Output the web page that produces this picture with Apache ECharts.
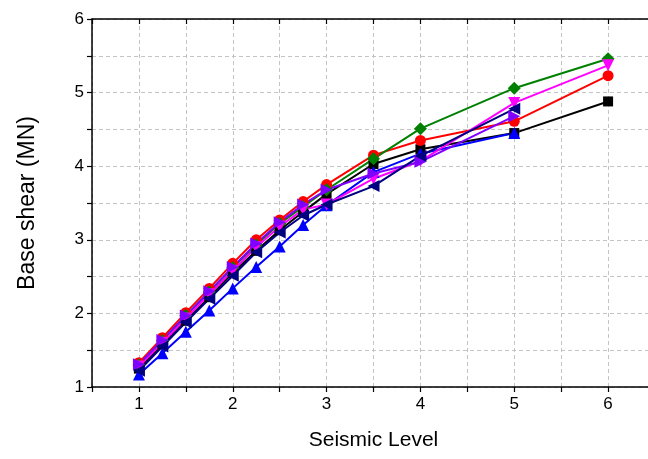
<!DOCTYPE html>
<html>
<head>
<meta charset="utf-8">
<script src="https://cdn.jsdelivr.net/npm/echarts@6/dist/echarts.min.js"></script>
<style>html,body{margin:0;padding:0;background:#fff;overflow:hidden;}#c{width:658px;height:459px;}</style>
</head>
<body>
<div id="c"></div>
<script>
const xLevels = [1, 1.25, 1.5, 1.75, 2, 2.25, 2.5, 2.75, 3, 3.5, 4, 5, 6];
const blackSq   = [1.25, 1.58, 1.90, 2.22, 2.55, 2.85, 3.13, 3.38, 3.62, 4.03, 4.23, 4.45, 4.88];
const redCirc   = [1.33, 1.67, 2.01, 2.34, 2.68, 3.00, 3.27, 3.52, 3.75, 4.15, 4.35, 4.61, 5.23];
const blueUp    = [1.17, 1.46, 1.75, 2.04, 2.34, 2.63, 2.91, 3.20, 3.47, 3.92, 4.17, 4.45];
const greenDia  = [1.30, 1.63, 1.97, 2.29, 2.62, 2.93, 3.22, 3.45, 3.68, 4.10, 4.51, 5.06, 5.46];
const magentaDn = [1.28, 1.60, 1.93, 2.26, 2.58, 2.90, 3.18, 3.41, 3.48, 3.83, 4.07, 4.86, 5.37];
const violetRt  = [1.31, 1.64, 1.97, 2.30, 2.63, 2.95, 3.24, 3.48, 3.68, 3.90, 4.06, 4.68];
const navyLt    = [1.22, 1.55, 1.88, 2.20, 2.51, 2.83, 3.10, 3.33, 3.48, 3.73, 4.14, 4.78];
const xTicks = [1, 2, 3, 4, 5, 6];
const yTicks = [1, 2, 3, 4, 5, 6];

const pair = arr => arr.map((v, i) => [xLevels[i], v]);
const mk = (name, data, color, symbol, size) => ({
  name, type: 'line', data: pair(data), symbol, symbolSize: size,
  lineStyle: {color, width: 2}, itemStyle: {color}, xAxisIndex: 0, yAxisIndex: 0,
  animation: false, z: 3
});
const isTick = (arr, v) => arr.some(t => Math.abs(t - v) < 1e-6);
const gridLine = {show: true, lineStyle: {color: '#c4c4c4', type: [4, 3], width: 1}};
const chart = echarts.init(document.getElementById('c'), null, {renderer: 'canvas'});
chart.setOption({
  animation: false,
  backgroundColor: '#fff',
  grid: {left: 92, top: 19, right: 1, bottom: 72, containLabel: false},
  xAxis: [{
    type: 'value', min: 0.5, max: 6.5, interval: 0.5, position: 'bottom',
    name: 'Seismic Level', nameLocation: 'middle', nameGap: 43,
    nameTextStyle: {fontFamily: 'Liberation Sans, Arial', fontSize: 21, color: '#000'},
    axisLine: {show: true, onZero: false, lineStyle: {color: '#000', width: 1.5}},
    axisTick: {show: true, inside: false, length: 5, lineStyle: {color: '#000', width: 1.2}},
    axisLabel: {fontFamily: 'Liberation Sans, Arial', fontSize: 17, color: '#000', margin: 9,
      formatter: v => isTick(xTicks, v) ? String(v) : ''},
    splitLine: gridLine
  }, {
    type: 'value', min: 0.5, max: 6.5, interval: 0.5, position: 'top',
    axisLine: {show: true, onZero: false, lineStyle: {color: '#000', width: 1.5}},
    axisTick: {show: true, inside: true, length: 5, lineStyle: {color: '#000', width: 1.2}},
    axisLabel: {show: false}, splitLine: {show: false}
  }],
  yAxis: [{
    type: 'value', min: 1, max: 6, interval: 0.5, position: 'left',
    name: 'Base shear (MN)', nameLocation: 'middle', nameGap: 53,
    nameTextStyle: {fontFamily: 'Liberation Sans, Arial', fontSize: 23, color: '#000'},
    axisLine: {show: true, onZero: false, lineStyle: {color: '#000', width: 1.5}},
    axisTick: {show: true, inside: false, length: 5, lineStyle: {color: '#000', width: 1.2}},
    axisLabel: {fontFamily: 'Liberation Sans, Arial', fontSize: 17, color: '#000', margin: 8,
      formatter: v => isTick(yTicks, v) ? String(v) : ''},
    splitLine: gridLine
  }],
  series: [
    mk('S1', blackSq, '#000000', 'rect', 10),
    mk('S2', redCirc, '#ff0000', 'circle', 11),
    mk('S4', greenDia, '#008000', 'diamond', 13),
    mk('S3', blueUp, '#0000ff', 'triangle', 12),
    mk('S6', magentaDn, '#ff00ff', 'path://M0,0 L10,0 L5,10 Z', 12),
    mk('S5', violetRt, '#8000ff', 'path://M0,0 L10,5 L0,10 Z', 12),
    mk('S7', navyLt, '#000080', 'path://M10,0 L0,5 L10,10 Z', 12)
  ]
});
</script>
</body>
</html>
